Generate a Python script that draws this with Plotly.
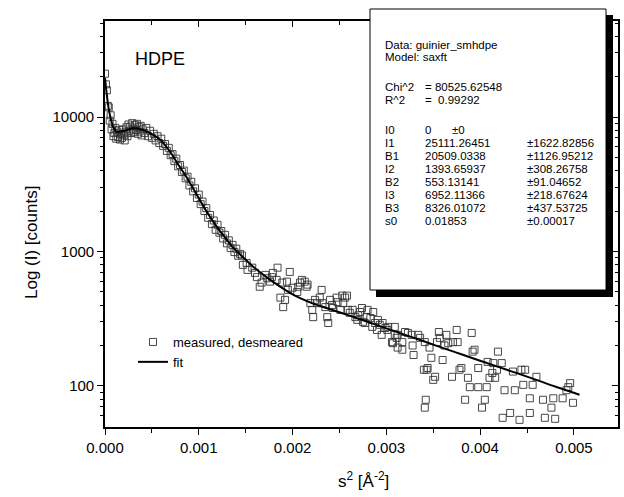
import plotly.graph_objects as go

# ---------------- data ----------------
s2_meas = [
    0.00000, 0.00001, 0.00002, 0.00003, 0.00004, 0.00005, 0.00006, 0.00007, 0.00008, 0.00009,
    0.00010, 0.00011, 0.00012, 0.00013, 0.00014, 0.00015, 0.00016, 0.00017, 0.00018, 0.00019,
    0.00020, 0.00021, 0.00022, 0.00023, 0.00024, 0.00025, 0.00026, 0.00027, 0.00028, 0.00029,
    0.00030, 0.00031, 0.00032, 0.00033, 0.00034, 0.00035, 0.00036, 0.00037, 0.00038, 0.00039,
    0.00040, 0.00042, 0.00044, 0.00046, 0.00048, 0.00050, 0.00052, 0.00054, 0.00056, 0.00058,
    0.00060, 0.00062, 0.00064, 0.00066, 0.00068, 0.00070, 0.00072, 0.00074, 0.00076, 0.00078,
    0.00080, 0.00082, 0.00084, 0.00086, 0.00088, 0.00090, 0.00092, 0.00094, 0.00096, 0.00098,
    0.00100, 0.00102, 0.00104, 0.00106, 0.00108, 0.00110, 0.00112, 0.00114, 0.00116, 0.00118,
    0.00120, 0.00122, 0.00124, 0.00126, 0.00128, 0.00130, 0.00132, 0.00134, 0.00136, 0.00138,
    0.00140, 0.00142, 0.00144,
    0.00146, 0.00147, 0.00151, 0.00152, 0.00157, 0.00160, 0.00162, 0.00165, 0.00167, 0.00171,
    0.00173, 0.00176, 0.00178, 0.00179, 0.00183, 0.00184, 0.00187, 0.00189, 0.00190, 0.00192,
    0.00194, 0.00195, 0.00197, 0.00200, 0.00205, 0.00206, 0.00208, 0.00210, 0.00213, 0.00215,
    0.00216, 0.00219, 0.00221, 0.00222, 0.00224, 0.00226, 0.00229, 0.00231, 0.00232, 0.00235,
    0.00237, 0.00238, 0.00240, 0.00242, 0.00243, 0.00247, 0.00248, 0.00251, 0.00253, 0.00254,
    0.00256, 0.00258, 0.00259, 0.00261, 0.00264, 0.00267, 0.00269, 0.00270, 0.00272, 0.00274,
    0.00275, 0.00277, 0.00279, 0.00280, 0.00283, 0.00285, 0.00286, 0.00288, 0.00290, 0.00291,
    0.00293, 0.00295, 0.00296, 0.00299, 0.00301, 0.00302, 0.00306, 0.00307, 0.00309, 0.00311,
    0.00312,
    0.00309, 0.00312, 0.00317, 0.00317, 0.00320, 0.00323, 0.00327, 0.00328, 0.00329, 0.00334,
    0.00336, 0.00341, 0.00343, 0.00344, 0.00346, 0.00348, 0.00350, 0.00354, 0.00356, 0.00357,
    0.00360, 0.00362, 0.00364, 0.00366, 0.00370, 0.00371, 0.00375, 0.00376, 0.00378, 0.00380,
    0.00384, 0.00387, 0.00389, 0.00391, 0.00392, 0.00394, 0.00398, 0.00398, 0.00402, 0.00405,
    0.00407, 0.00408, 0.00410, 0.00413, 0.00414, 0.00416, 0.00418, 0.00419, 0.00423, 0.00424,
    0.00426, 0.00432, 0.00435, 0.00437, 0.00442, 0.00444, 0.00446, 0.00448, 0.00453, 0.00453,
    0.00456, 0.00460, 0.00467, 0.00469, 0.00476, 0.00478, 0.00480, 0.00488, 0.00492, 0.00494,
    0.00496, 0.00499, 0.00352, 0.00342, 0.00341, 0.00340,
]
I_meas = [
    21000, 17500, 15800, 12100, 11800, 9400, 10300, 8100, 8900, 7200,
    7600, 8300, 6900, 7800, 7100, 8000, 6800, 7500, 7000, 8100,
    7300, 6700, 7700, 8400, 7200, 8800, 7900, 8500, 7600, 9000,
    8200, 7700, 8700, 8000, 8900, 7500, 8400, 7800, 8600, 7300,
    8100, 7600, 8300, 7200, 7900, 7000, 7500, 6700, 7200, 6400,
    6900, 6100, 6300, 5600, 5900, 5200, 5300, 4700, 4900, 4300,
    4400, 3900, 4000, 3500, 3600, 3100, 3300, 2800, 2950, 2500,
    2650, 2250, 2350, 2000, 2100, 1780, 1870, 1600, 1700, 1450,
    1580, 1380, 1420, 1250, 1330, 1150, 1210, 1060, 1120, 990,
    1050, 930, 960,
    934, 795, 822, 730, 758, 693, 645, 547, 587, 670,
    632, 597, 645, 693, 615, 758, 454, 587, 386, 437,
    597, 518, 705, 538, 500, 547, 587, 615, 597, 547,
    567, 413, 368, 325, 437, 413, 454, 518, 413, 386,
    325, 294, 437, 400, 380, 454, 420, 368, 470, 413,
    454, 470, 368, 350, 368, 325, 310, 335, 355, 380,
    300, 294, 325, 368, 320, 275, 355, 294, 261, 310,
    285, 240, 294, 270, 261, 275, 212, 208, 240, 228,
    193,
    275, 240, 212, 186, 252, 248, 240, 200, 170, 240,
    228, 212, 132, 136, 193, 162, 111, 212, 252, 228,
    156, 200, 240, 208, 117, 212, 261, 212, 132, 136,
    79, 115, 98, 248, 180, 186, 136, 98, 69, 79,
    98, 151, 115, 125, 148, 115, 132, 180, 148, 58,
    93, 63, 128, 93, 56, 132, 102, 132, 81, 63,
    102, 117, 79, 58, 69, 81, 57, 81, 93, 98,
    105, 75, 117, 79, 69, 132,
]

s2_fit = [
    0.00000, 0.00002, 0.00004, 0.00007, 0.00010, 0.00013, 0.00020, 0.00030, 0.00040, 0.00048,
    0.00055, 0.00060, 0.00070, 0.00077, 0.00085, 0.00091, 0.00101, 0.00110, 0.00119, 0.00130,
    0.00136, 0.00147, 0.00160, 0.00180, 0.00200, 0.00220, 0.00240, 0.00260, 0.00280, 0.00300,
    0.00320, 0.00340, 0.00360, 0.00380, 0.00400, 0.00420, 0.00440, 0.00460, 0.00480, 0.00500,
    0.00506,
]
I_fit = [
    19500, 14500, 11500, 9200, 8100, 7750, 7900, 8250, 8050, 7600,
    7100, 6650, 5450, 4550, 3750, 3200, 2420, 1900, 1530, 1220,
    1080, 910, 750, 590, 480, 415, 372, 335, 300, 268,
    240, 215, 192, 172, 154, 138, 124, 111, 99, 89,
    86,
]

y_tick_vals = [100, 1000, 10000]
y_tick_text = ["100", "1000", "10000"]
x_tick_vals = [0.000, 0.001, 0.002, 0.003, 0.004, 0.005]
x_tick_text = ["0.000", "0.001", "0.002", "0.003", "0.004", "0.005"]
y_minor_vals = [60, 70, 80, 90, 200, 300, 400, 500, 600, 700, 800, 900,
                2000, 3000, 4000, 5000, 6000, 7000, 8000, 9000,
                20000, 30000, 40000, 50000]

box_rows = [
    ("Data: guinier_smhdpe", "", ""),
    ("Model: saxft", "", ""),
    ("Chi^2", "= 80525.62548", ""),
    ("R^2", "=  0.99292", ""),
    ("I0", "0", "±0"),
    ("I1", "25111.26451", "±1622.82856"),
    ("B1", "20509.0338", "±1126.95212"),
    ("I2", "1393.65937", "±308.26758"),
    ("B2", "553.13141", "±91.04652"),
    ("I3", "6952.11366", "±218.67624"),
    ("B3", "8326.01072", "±437.53725"),
    ("s0", "0.01853", "±0.00017"),
]

# ---------------- layout geometry (pixels) ----------------
W, H = 624, 497
L, R, T, B = 105, 618, 21, 427
FONT = "Liberation Sans, Arial, sans-serif"


def px(x):
    return (x - L) / (R - L)


def py(y):
    return (B - y) / (B - T)


fig = go.Figure()
fig.add_trace(go.Scatter(
    x=s2_meas, y=I_meas, mode="markers", name="measured, desmeared",
    marker=dict(symbol="square-open", size=7, color="#333333", line=dict(width=0.9)),
))
fig.add_trace(go.Scatter(
    x=s2_fit, y=I_fit, mode="lines", name="fit", line=dict(color="black", width=2),
    line_shape="spline",
))
fig.add_trace(go.Scatter(x=[None], y=[None], xaxis="x2", yaxis="y2",
                         showlegend=False, hoverinfo="skip"))

xr = [0, 0.00547]
yr = [1.695, 4.714]
axis_common = dict(showgrid=False, zeroline=False, showline=True, linecolor="black",
                   linewidth=1.6, tickcolor="black", tickwidth=1.4)

fig.update_layout(
    width=W, height=H,
    margin=dict(l=L, r=W - R, t=T, b=H - B),
    paper_bgcolor="white", plot_bgcolor="white",
    font=dict(family=FONT, color="black", size=15),
    xaxis=dict(range=xr, tickvals=x_tick_vals, ticktext=x_tick_text, ticks="outside",
               ticklen=6, minor=dict(dtick=0.0005, tick0=0, ticks="outside", ticklen=4,
                                     tickcolor="black"),
               tickfont=dict(size=15), **axis_common),
    yaxis=dict(type="log", range=yr, tickvals=y_tick_vals, ticktext=y_tick_text,
               ticks="outside", ticklen=6,
               minor=dict(tickvals=y_minor_vals, ticks="outside", ticklen=3, tickcolor="black"),
               tickfont=dict(size=15), **axis_common),
    xaxis2=dict(range=xr, overlaying="x", side="top", tickvals=x_tick_vals, ticks="inside",
                ticklen=6, showticklabels=False,
                minor=dict(dtick=0.0005, tick0=0, ticks="inside", ticklen=4, tickcolor="black"),
                **axis_common),
    yaxis2=dict(type="log", range=yr, overlaying="y", side="right", tickvals=y_tick_vals,
                ticks="inside", ticklen=6, showticklabels=False,
                minor=dict(tickvals=y_minor_vals, ticks="inside", ticklen=3, tickcolor="black"),
                **axis_common),
    showlegend=True,
    legend=dict(x=px(133), y=py(327), xanchor="left", yanchor="top",
                bgcolor="rgba(0,0,0,0)", font=dict(size=13), tracegroupgap=0,
                itemwidth=30),
)


def ann(text, x, y, size, xanchor="left", **kw):
    return dict(text=text, x=px(x), y=py(y), xref="paper", yref="paper",
                xanchor=xanchor, yanchor="middle", showarrow=False,
                font=dict(size=size), **kw)


annotations = [
    ann("Log (I) [counts]", 31, 243, 17, xanchor="center", textangle=-90),
    ann("s<sup>2</sup> [Å<sup>-2</sup>]", 363, 480, 17, xanchor="center"),
    ann("HDPE", 133, 59, 18),
]

# text box
shapes = [
    dict(type="rect", xref="paper", yref="paper", x0=px(376), x1=px(613), y0=py(297), y1=py(15),
         fillcolor="black", line=dict(width=0), layer="above"),
    dict(type="rect", xref="paper", yref="paper", x0=px(370), x1=px(606), y0=py(290), y1=py(9),
         fillcolor="white", line=dict(color="black", width=1), layer="above"),
]
row_y = [45, 57, 87, 100, 130, 143, 156, 169, 182, 195, 208, 221]
for (a, b, c), yy in zip(box_rows, row_y):
    annotations.append(ann(a, 383, yy, 11.5))
    if b:
        annotations.append(ann(b, 423, yy, 11.5))
    if c:
        annotations.append(ann(c, 450 if a == "I0" else 525, yy, 11.5))

fig.update_layout(annotations=annotations, shapes=shapes)
fig.write_html("out.html")
